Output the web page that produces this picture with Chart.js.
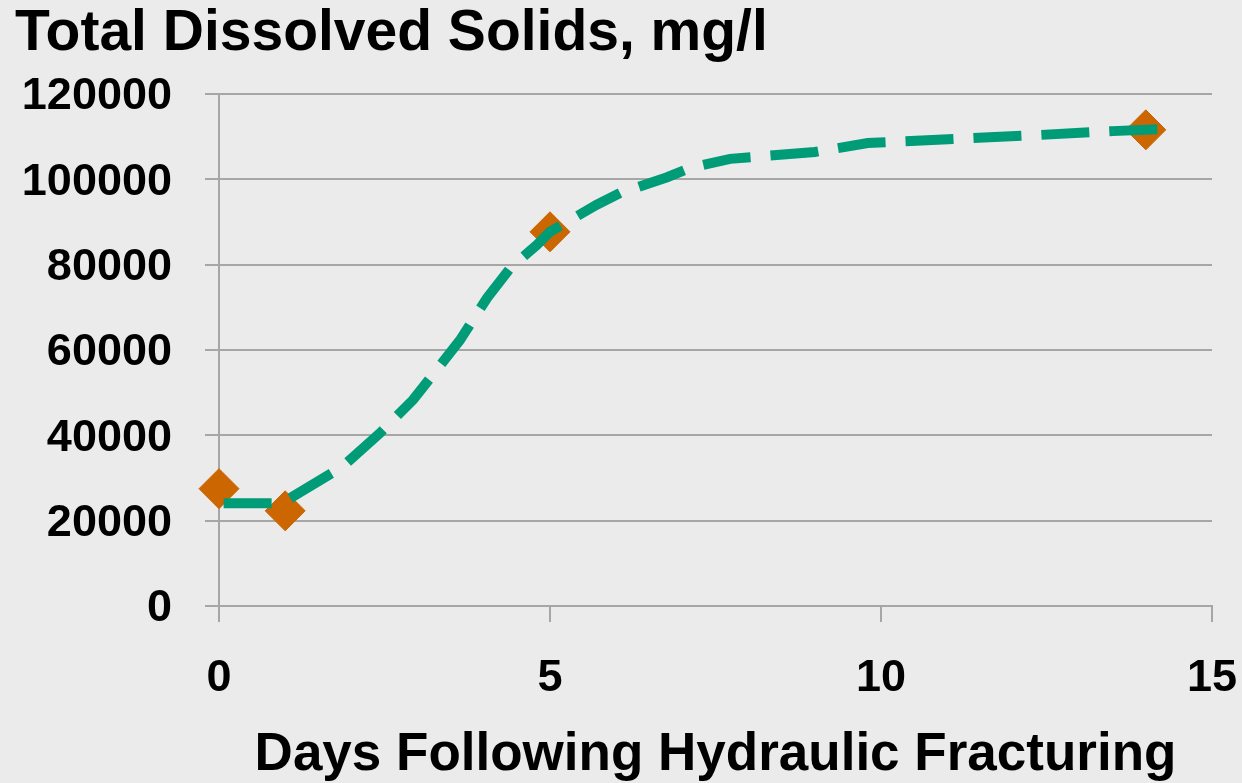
<!DOCTYPE html>
<html>
<head>
<meta charset="utf-8">
<script src="https://cdn.jsdelivr.net/npm/chart.js@4"></script>
<style>
  html, body { margin: 0; padding: 0; background: #ebebeb; }
  #wrap { width: 1242px; height: 783px; }
</style>
</head>
<body>
<div id="wrap"><canvas id="tdsChart" width="1242" height="783"></canvas></div>
<script>
// measured samples (days, mg/l)
const sampleDays = [0, 1, 5, 14];
const sampleTds = [27500, 22300, 87700, 111600];

// hand-drawn trend line
const trendDays = [0.07, 0.95, 1.86, 2.43, 2.93, 3.64, 4.05, 4.4, 4.8, 5, 5.7, 6.06, 6.77, 7.1, 7.72, 9.0, 9.8, 12.4, 13.5, 14.25];
const trendTds = [24100, 24100, 32600, 40500, 48300, 62300, 72200, 79200, 84600, 87700, 94000, 96800, 100500, 102600, 104800, 106400, 108500, 110400, 111300, 111800];

// axis ticks
const xTicks = [0, 5, 10, 15];
const yTicks = [0, 20000, 40000, 60000, 80000, 100000, 120000];

const gridColor = '#a6a6a6';
const fontFamily = '"Liberation Sans", Arial, sans-serif';

// paint the grey background on the canvas itself
const bgPlugin = {
    id: 'bg',
    beforeDraw(chart) {
        const ctx = chart.ctx;
        ctx.save();
        ctx.fillStyle = '#ebebeb';
        ctx.fillRect(0, 0, chart.width, chart.height);
        ctx.restore();
    }
};

function toPoints(xs, ys) {
    return xs.map((x, i) => ({ x: x, y: ys[i] }));
}

const config = {
    type: 'scatter',
    data: {
        datasets: [
            {
                label: 'Trend',
                type: 'line',
                data: toPoints(trendDays, trendTds),
                borderColor: '#009b77',
                borderWidth: 10,
                borderDash: [48, 20],
                borderCapStyle: 'butt',
                pointRadius: 0,
                tension: 0,
                fill: false,
                clip: false,
                order: 0
            },
            {
                label: 'TDS',
                data: toPoints(sampleDays, sampleTds),
                pointStyle: 'rectRot',
                pointRadius: 20,
                pointBackgroundColor: '#cc6600',
                pointBorderColor: '#cc6600',
                pointBorderWidth: 1,
                showLine: false,
                clip: false,
                order: 1
            }
        ]
    },
    options: {
        responsive: false,
        animation: false,
        layout: { padding: { left: 15, right: 30, top: 0, bottom: 0 } },
        plugins: {
            legend: { display: false },
            tooltip: { enabled: false },
            title: {
                display: true,
                text: 'Total Dissolved Solids, mg/l',
                align: 'start',
                color: '#000',
                font: { family: fontFamily, size: 57, weight: 'bold' },
                padding: { top: 0, bottom: 25.6 }
            }
        },
        scales: {
            x: {
                type: 'linear',
                min: 0,
                max: 15,
                afterBuildTicks(scale) {
                    scale.ticks = xTicks.map(v => ({ value: v }));
                },
                afterFit(scale) {
                    scale.height = 177;
                    scale.paddingLeft = 0;
                    scale.paddingRight = 0;
                },
                grid: {
                    drawOnChartArea: false,
                    drawTicks: true,
                    tickLength: 16,
                    color: gridColor,
                    lineWidth: 2
                },
                border: { display: true, color: gridColor, width: 2 },
                ticks: {
                    color: '#000',
                    padding: 30,
                    maxRotation: 0,
                    font: { family: fontFamily, size: 45, weight: 'bold' }
                },
                title: {
                    display: true,
                    text: 'Days Following Hydraulic Fracturing',
                    color: '#000',
                    font: { family: fontFamily, size: 53, weight: 'bold', lineHeight: 1.05 },
                    padding: { top: 0, bottom: 0 }
                }
            },
            y: {
                type: 'linear',
                min: 0,
                max: 120000,
                afterBuildTicks(scale) {
                    scale.ticks = yTicks.map(v => ({ value: v }));
                },
                afterFit(scale) { scale.width = 204; },
                grid: {
                    drawTicks: true,
                    tickLength: 14,
                    color: gridColor,
                    lineWidth: 2
                },
                border: { display: true, color: gridColor, width: 2 },
                ticks: {
                    color: '#000',
                    padding: 33,
                    labelOffset: 3,
                    font: { family: fontFamily, size: 45, weight: 'bold' },
                    callback: v => String(v)
                }
            }
        }
    },
    plugins: [bgPlugin]
};

new Chart(document.getElementById('tdsChart').getContext('2d'), config);
</script>
</body>
</html>
